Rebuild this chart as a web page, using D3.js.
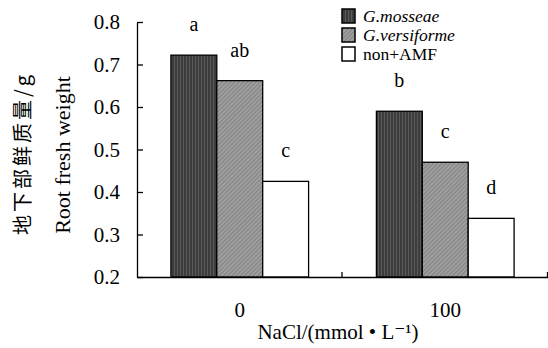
<!DOCTYPE html>
<html><head><meta charset="utf-8">
<script src="https://cdn.jsdelivr.net/npm/d3@7"></script>
<style>body{margin:0;background:#fff}svg{display:block}
.serif{font-family:"Liberation Serif","Times New Roman",Times,"DejaVu Serif",serif}
</style>
</head><body>
<svg id="c" width="548" height="348"></svg>
<script>
const categories = ["0", "100"];
const seriesNames = ["G.mosseae", "G.versiforme", "non+AMF"];
const gMosseae = [0.722, 0.590];
const gVersiforme = [0.662, 0.470];
const nonAMF = [0.425, 0.338];
const sigLetters = [["a", "b"], ["ab", "c"], ["c", "d"]];
const yTicks = [0.2, 0.3, 0.4, 0.5, 0.6, 0.7, 0.8];
const yTitleCN = "地下部鲜质量/g";
const yTitleEN = "Root fresh weight";
const xTitle = "NaCl/(mmol • L⁻¹)";

const series = [gMosseae, gVersiforme, nonAMF];
const svg = d3.select("#c");

const defs = svg.append("defs");
const p1 = defs.append("pattern").attr("id","pm").attr("patternUnits","userSpaceOnUse").attr("width",3).attr("height",3);
p1.append("rect").attr("width",3).attr("height",3).attr("fill","#3c3c3c");
p1.append("rect").attr("width",1).attr("height",3).attr("fill","#5a5a5a");
const p2 = defs.append("pattern").attr("id","pv").attr("patternUnits","userSpaceOnUse").attr("width",3).attr("height",3).attr("patternTransform","rotate(45)");
p2.append("rect").attr("width",3).attr("height",3).attr("fill","#8c8c8c");
p2.append("rect").attr("width",1).attr("height",3).attr("fill","#a8a8a8");
const fills = ["url(#pm)", "url(#pv)", "#fff"];

const x0 = d3.scaleBand().domain(categories).range([137, 548]);
const bw = x0.bandwidth();
const x1 = d3.scaleBand().domain(seriesNames).range([bw*0.165, bw*0.835]);
const y = d3.scaleLinear().domain([0.2, 0.8]).range([277, 22]);

// bars
seriesNames.forEach((s, si) => {
  svg.append("g").selectAll("rect").data(series[si]).join("rect")
    .attr("x", (d, i) => x0(categories[i]) + x1(s))
    .attr("y", d => y(d))
    .attr("width", x1.bandwidth())
    .attr("height", d => y(0.2) - y(d))
    .attr("fill", fills[si])
    .attr("stroke", "#000").attr("stroke-width", 1.3);
  svg.append("g").selectAll("text").data(series[si]).join("text")
    .attr("class","serif")
    .attr("x", (d, i) => x0(categories[i]) + x1(s) + x1.bandwidth()/2)
    .attr("y", d => y(d) - 24)
    .attr("text-anchor", "middle")
    .attr("font-size", 20)
    .text((d, i) => sigLetters[si][i]);
});

// y axis
const ya = svg.append("g").attr("transform","translate(137,0)")
  .call(d3.axisLeft(y).tickValues(yTicks).tickFormat(d3.format(".1f")).tickSizeInner(-6).tickSizeOuter(0).tickPadding(17));
ya.attr("font-family", null);
ya.select(".domain").attr("stroke","#000").attr("stroke-width",1.3);
ya.selectAll(".tick line").attr("stroke","#000").attr("stroke-width",1.3);
ya.selectAll("text").attr("class","serif").attr("font-size",21).attr("fill","#000").attr("dy","0.33em");

// x axis
const xa = svg.append("g").attr("transform","translate(0,277)")
  .call(d3.axisBottom(x0).tickSize(0).tickPadding(25));
xa.attr("font-family", null);
xa.select(".domain").attr("stroke","#000").attr("stroke-width",1.3);
xa.selectAll("text").attr("class","serif").attr("font-size",21).attr("fill","#000");
svg.append("g").selectAll("line").data(categories).join("line")
  .attr("x1", d => x0(d) + bw - 0.5).attr("x2", d => x0(d) + bw - 0.5)
  .attr("y1", 277).attr("y2", 272).attr("stroke","#000").attr("stroke-width",1.3);

// titles
svg.append("text").attr("class","serif").attr("x", 338).attr("y", 339).attr("text-anchor","middle")
  .attr("font-size", 21).text(xTitle);
svg.append("text").attr("class","serif").attr("transform","translate(70,155) rotate(-90)").attr("text-anchor","middle")
  .attr("font-size", 22).text(yTitleEN);
svg.append("text").attr("transform","translate(30,155) rotate(-90)").attr("text-anchor","middle")
  .attr("font-family", "'Noto Sans CJK SC',sans-serif").attr("font-size", 20)
  .attr("textLength",160).attr("lengthAdjust","spacing").text(yTitleCN);

// legend
const lg = svg.append("g").selectAll("g").data(seriesNames).join("g")
  .attr("transform", (d, i) => `translate(342,${9 + i*19})`);
lg.append("rect").attr("width",13).attr("height",14).attr("fill",(d,i)=>fills[i])
  .attr("stroke","#000").attr("stroke-width",1.5);
lg.append("text").attr("class","serif").attr("x",21).attr("y",7).attr("dy","0.33em")
  .attr("font-size",17.5)
  .attr("font-style",(d,i)=> i<2 ? "italic" : "normal").text(d=>d);
</script>
</body></html>
